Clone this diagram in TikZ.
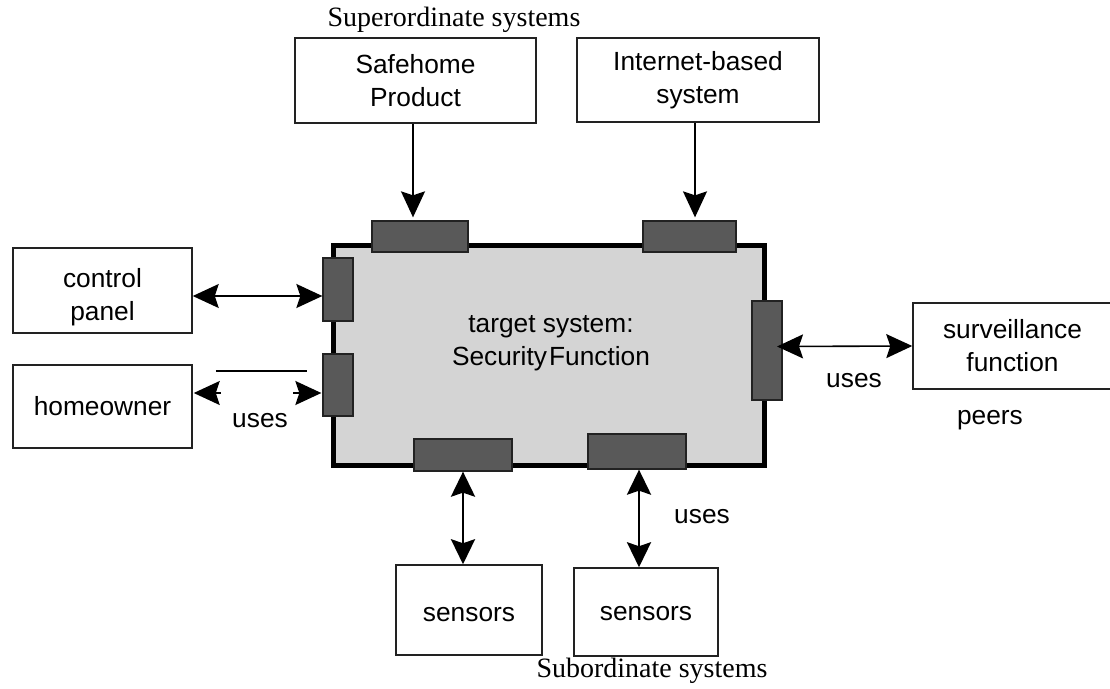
\documentclass[tikz,border=0pt]{standalone}
\usepackage{fontspec}
\setmainfont{Liberation Sans}
\newfontfamily\serifcap{Liberation Serif}
\usetikzlibrary{arrows.meta}
\definecolor{portgray}{HTML}{595959}
\definecolor{mainfill}{HTML}{D4D4D4}
\definecolor{edgegray}{HTML}{222222}
\tikzset{
  box/.style={draw=edgegray, line width=1.5pt, fill=white, inner sep=0pt, align=center,
    font=\fontsize{26.3}{33}\selectfont},
  port/.style={draw=edgegray, line width=1.3pt, fill=portgray, inner sep=0pt},
  lbl/.style={font=\fontsize{26.3}{33}\selectfont, inner sep=0pt},
  caption/.style={font=\serifcap\fontsize{28}{33}\selectfont, inner sep=0pt, anchor=base},
  arr/.style={line width=1.6pt, -{Stealth[length=26pt,width=24pt,inset=4pt]}},
  darr/.style={line width=1.6pt, {Stealth[length=26pt,width=24pt,inset=4pt]}-{Stealth[length=26pt,width=24pt,inset=4pt]}},
  thickdarr/.style={line width=2.8pt, {Stealth[length=25pt,width=24pt,inset=4pt]}-{Stealth[length=25pt,width=24pt,inset=4pt]}},
}
\begin{document}
\begin{tikzpicture}[x=1pt,y=-1pt]
\clip (0,0) rectangle (1110,688);
\fill[white] (0,0) rectangle (1110,688);

% main system
\node[draw=black, line width=5pt, fill=mainfill, minimum width=431pt, minimum height=220pt, inner sep=0pt] (main) at (548.5,355) {};
\node[lbl, align=center] (title) at (551,343) {target system:\\Security\kern-0.2em\ Function};

% ports
\node[port, minimum width=96pt, minimum height=31pt] (pT1) at (420,236.5) {};
\node[port, minimum width=93pt, minimum height=31pt] (pT2) at (689.5,236.5) {};
\node[port, minimum width=30pt, minimum height=63pt] (pL1) at (338,289.5) {};
\node[port, minimum width=30pt, minimum height=62pt] (pL2) at (338,385) {};
\node[port, minimum width=30pt, minimum height=99pt] (pR) at (767,350.5) {};
\node[port, minimum width=98pt, minimum height=32pt] (pB1) at (463,455) {};
\node[port, minimum width=98pt, minimum height=35pt] (pB2) at (637,451.5) {};

% outer boxes
\node[box, minimum width=241pt, minimum height=85pt] (sp) at (415.5,80.5) {Safehome\\Product};
\node[box, minimum width=242pt, minimum height=84pt] (ib) at (698,80) {Internet-based\\system};
\node[box, minimum width=179pt, minimum height=85pt,
  label={[lbl, align=center, name=cpt, yshift=-7pt]center:control\\panel}] (cp) at (102.5,290.5) {};
\node[box, minimum width=179pt, minimum height=83pt] (hw) at (102.5,406.5) {homeowner};
\node[box, minimum width=199pt, minimum height=86pt] (sv) at (1012.5,346) {surveillance\\function};
\node[box, minimum width=146pt, minimum height=90pt,
  label={[lbl, name=s1t, yshift=-5pt]center:sensors}] (s1) at (469,610) {};
\node[box, minimum width=144pt, minimum height=88pt,
  label={[lbl, name=s2t, yshift=-2pt]center:sensors}] (s2) at (646,612) {};

% captions
\node[caption] (sup) at (454,27) {Superordinate systems};
\node[caption] (sub) at (652,677) {Subordinate systems};
\node[lbl] (u1) at (260,421) {uses};
\node[lbl] (u2) at (854,381) {uses};
\node[lbl] (u3) at (702,517) {uses};
\node[lbl] (peers) at (990,420) {peers};

% connectors
\draw[arr, shorten >=3pt] ([xshift=-2.5pt]sp.south) -- ([xshift=-2.5pt]sp.south |- pT1.north);
\draw[arr, shorten >=3pt] ([xshift=-3pt]ib.south) -- ([xshift=-3pt]ib.south |- pT2.north);
\draw[darr] ([yshift=-5.5pt]cp.east) -- ([yshift=-5.5pt]cp.east -| pL1.west);
% homeowner: detached line and heads
\draw[line width=1.6pt] ([xshift=23pt,yshift=35.5pt]hw.east) -- ([xshift=-15pt,yshift=35.5pt]hw.east -| pL2.west);
\draw[arr] ([xshift=28pt,yshift=13.5pt]hw.east) -- ([xshift=1pt,yshift=13.5pt]hw.east);
\draw[arr] ([xshift=-29pt,yshift=13.5pt]hw.east -| pL2.west) -- ([xshift=-1pt,yshift=13.5pt]hw.east -| pL2.west);
\draw[darr] ([xshift=10pt,yshift=4pt]pR.center) -- (sv.west);
\draw[thickdarr] (pB1.south) -- (pB1.south |- s1.north);
\draw[thickdarr] ([xshift=2pt]pB2.south) -- ([xshift=2pt]pB2.south |- s2.north);
\end{tikzpicture}
\end{document}
